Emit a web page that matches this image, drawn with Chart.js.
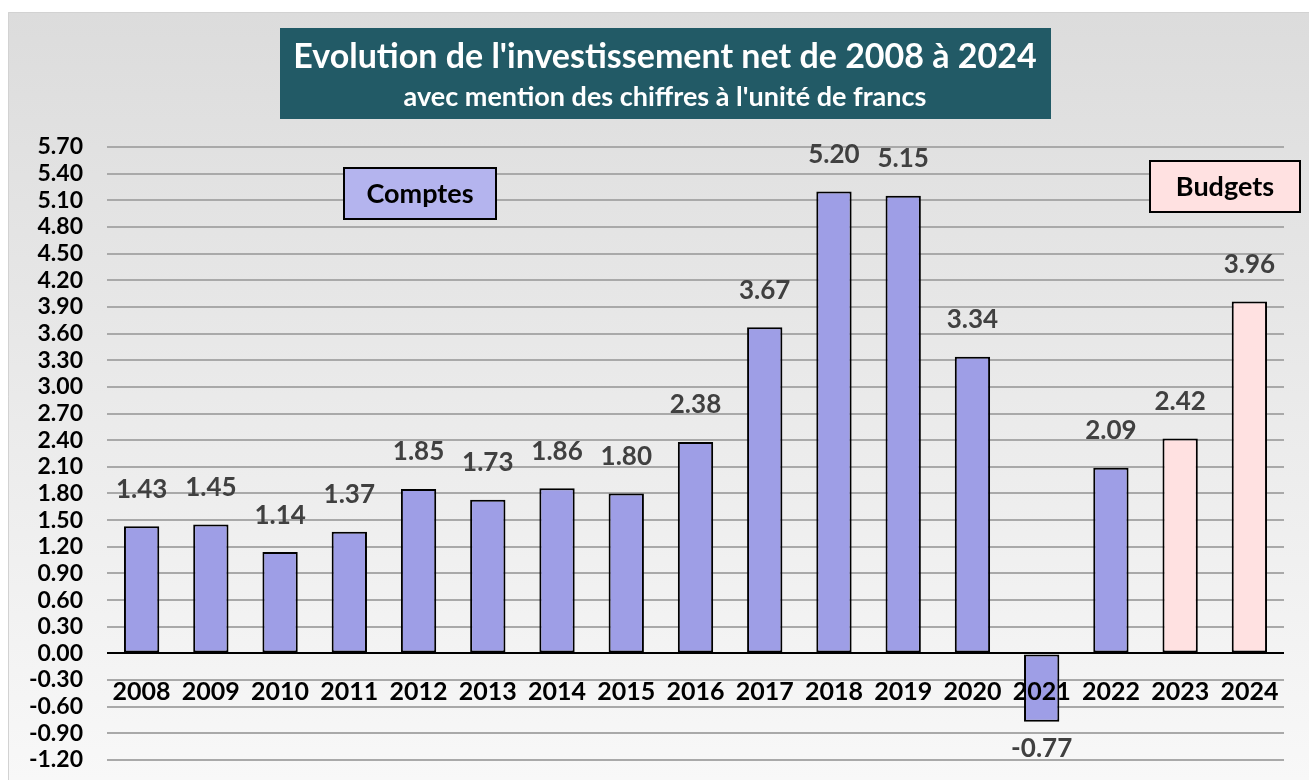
<!DOCTYPE html>
<html>
<head>
<meta charset="utf-8">
<script src="https://cdn.jsdelivr.net/npm/chart.js@4.4.1/dist/chart.umd.min.js"></script>
<style>
html,body{margin:0;padding:0;background:#fff;overflow:hidden;}
#wrap{position:relative;width:1309px;height:780px;}
canvas{display:block;}
</style>
</head>
<body>
<div id="wrap"><canvas id="c" width="1309" height="780"></canvas></div>
<script>
const years = ['2008','2009','2010','2011','2012','2013','2014','2015','2016','2017','2018','2019','2020','2021','2022','2023','2024'];
const values = [1.43,1.45,1.14,1.37,1.85,1.73,1.86,1.80,2.38,3.67,5.20,5.15,3.34,-0.77,2.09,2.42,3.96];
const kinds = ['C','C','C','C','C','C','C','C','C','C','C','C','C','C','C','B','B'];
const titleText = "Evolution de l'investissement net de 2008 à 2024";
const subtitleText = "avec mention des chiffres à l'unité de francs";
const legendComptes = 'Comptes';
const legendBudgets = 'Budgets';
const yMin = -1.2, yMax = 5.7, yStep = 0.3;

const FONT = 'Lato, "Open Sans", sans-serif';
const colComptes = '#9e9ee6';
const colBudgets = '#ffe1e1';

const bgPlugin = {
  id: 'bg',
  beforeDraw(chart) {
    const ctx = chart.ctx;
    ctx.save();
    ctx.fillStyle = '#ffffff';
    ctx.fillRect(0, 0, chart.width, chart.height);
    const g = ctx.createLinearGradient(0, 12, 0, 780);
    g.addColorStop(0, '#dcdcdc');
    g.addColorStop(1, '#f8f8f8');
    ctx.fillStyle = g;
    ctx.fillRect(8, 12, chart.width, chart.height);
    ctx.strokeStyle = '#d2d2d2';
    ctx.lineWidth = 1;
    ctx.beginPath();
    ctx.moveTo(8.5, chart.height);
    ctx.lineTo(8.5, 12.5);
    ctx.lineTo(chart.width, 12.5);
    ctx.stroke();
    ctx.fillStyle = '#225a66';
    ctx.fillRect(280, 28, 771, 91);
    ctx.fillStyle = '#ffffff';
    ctx.textAlign = 'center';
    ctx.textBaseline = 'middle';
    ctx.font = 'bold 34px ' + FONT;
    ctx.fillText(titleText, 665, 57);
    ctx.font = 'bold 27px ' + FONT;
    ctx.fillText(subtitleText, 665, 97);
    ctx.restore();
  }
};

function drawBox(ctx, x, y, w, h, fill, text) {
  ctx.fillStyle = fill;
  ctx.fillRect(x, y, w, h);
  ctx.strokeStyle = '#000';
  ctx.lineWidth = 2;
  ctx.strokeRect(x, y, w, h);
  ctx.fillStyle = '#000';
  ctx.font = 'bold 27px ' + FONT;
  ctx.textAlign = 'center';
  ctx.textBaseline = 'middle';
  ctx.fillText(text, x + w / 2, y + h / 2 + 1);
}

const overlayPlugin = {
  id: 'overlay',
  afterDatasetsDraw(chart) {
    const ctx = chart.ctx;
    const xs = chart.scales.x, ys = chart.scales.y;
    const meta = chart.getDatasetMeta(0);
    ctx.save();
    ctx.font = 'bold 26px ' + FONT;
    ctx.fillStyle = '#404040';
    ctx.textAlign = 'center';
    ctx.textBaseline = 'middle';
    meta.data.forEach((bar, i) => {
      const v = values[i];
      const y = v >= 0 ? bar.y - 37 : bar.y + 27;
      ctx.fillText(v.toFixed(2), bar.x, y);
    });
    ctx.font = 'bold 25px ' + FONT;
    ctx.fillStyle = '#000';
    const ly = ys.getPixelForValue(-0.43);
    years.forEach((yr, i) => {
      ctx.fillText(yr, xs.getPixelForValue(i), ly);
    });
    drawBox(ctx, 344, 168, 152, 51, '#b4b4ee', legendComptes);
    drawBox(ctx, 1150, 161, 150, 51, '#ffe1e1', legendBudgets);
    ctx.restore();
  }
};

new Chart(document.getElementById('c'), {
  type: 'bar',
  data: {
    labels: years,
    datasets: [{
      data: values,
      backgroundColor: kinds.map(k => k === 'B' ? colBudgets : colComptes),
      borderColor: '#000',
      borderWidth: 2,
      borderSkipped: false,
      barPercentage: 0.51,
      categoryPercentage: 1
    }]
  },
  options: {
    responsive: false,
    animation: false,
    layout: { padding: { left: 8, right: 25, top: 147, bottom: 20 } },
    plugins: { legend: { display: false }, title: { display: false }, tooltip: { enabled: false } },
    scales: {
      x: { display: false },
      y: {
        min: yMin, max: yMax,
        afterFit(s) { s.width = 99; s.paddingTop = 0; s.paddingBottom = 0; },
        ticks: {
          stepSize: yStep,
          autoSkip: false,
          padding: 24,
          color: '#000',
          font: { family: FONT, size: 23, weight: 'bold' },
          callback: v => Number(v).toFixed(2)
        },
        grid: {
          drawTicks: false,
          lineWidth: 2,
          color: c => (Math.abs(c.tick.value) < 1e-9 ? '#000' : '#a9a9a9')
        },
        border: { display: false }
      }
    }
  },
  plugins: [bgPlugin, overlayPlugin]
});
</script>
</body>
</html>
